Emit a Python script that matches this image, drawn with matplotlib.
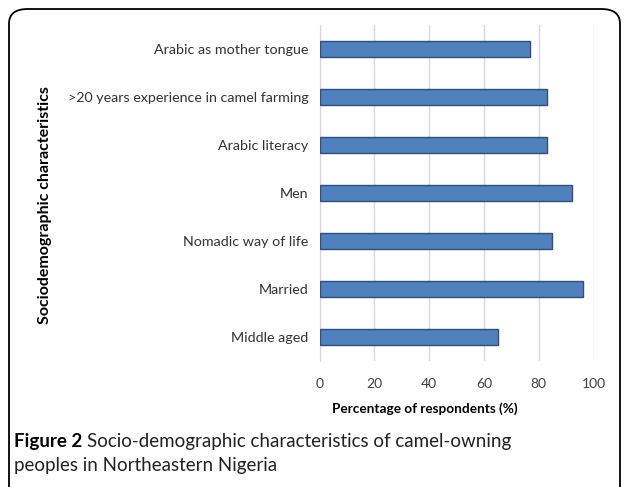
import matplotlib.pyplot as plt
from matplotlib.patches import FancyBboxPatch

# survey results, top to bottom
labels = ['Arabic as mother tongue', '>20 years experience in camel farming',
          'Arabic literacy', 'Men', 'Nomadic way of life', 'Married', 'Middle aged']
percent = [77, 83, 83, 92, 85, 96, 65]
xticks = [0, 20, 40, 60, 80, 100]

plt.rcParams['font.family'] = ['Lato', 'DejaVu Sans']

W, H = 627, 487
fig = plt.figure(figsize=(W / 100, H / 100), dpi=100)
ax = fig.add_axes([319.5 / W, 1 - 361 / H, (593.5 - 319.5) / W, (361 - 25) / H])

ypos = list(range(len(labels)))[::-1]
ax.barh(ypos, percent, height=0.35, color='#4F81BD', edgecolor='#2F4F7F',
        linewidth=1.0, zorder=3)

ax.set_xlim(0, 100)
ax.set_ylim(-0.5, len(labels) - 0.5)
ax.set_xticks(xticks)
ax.set_yticks(ypos)
ax.set_yticklabels(labels, fontsize=10.3, color='#333333')
ax.tick_params(axis='x', labelsize=10, colors='#404040', length=0, pad=12)
ax.tick_params(axis='y', length=0, pad=8)
ax.grid(axis='x', color='#d9d9d9', linewidth=1, zorder=0)
for s in ['top', 'right', 'bottom']:
    ax.spines[s].set_visible(False)
ax.spines['left'].set_color('#d9d9d9')

fig.text(425 / W, 1 - 409 / H, 'Percentage of respondents (%)', fontsize=9.8,
         fontweight='bold', ha='center', va='center')
fig.text(45 / W, 1 - 205 / H, 'Sociodemographic characteristics', rotation=90,
         fontsize=11.5, fontweight='bold', ha='center', va='center')

# caption: bold figure number followed by the description
cap_fs = 13.5
num = fig.text(14 / W, 1 - 441 / H, 'Figure 2', fontsize=cap_fs,
               fontweight='bold', va='center')
fig.canvas.draw()
bb = num.get_window_extent()
fig.text((bb.x1 + 5) / W, 1 - 441 / H,
         'Socio-demographic characteristics of camel-owning',
         fontsize=cap_fs, va='center', color='#222222')
fig.text(14 / W, 1 - 466 / H, 'peoples in Northeastern Nigeria',
         fontsize=cap_fs, va='center', color='#222222')

# rounded frame around the figure
frame = FancyBboxPatch((9 / W, -0.03), 611 / W, 1 - 9 / H + 0.03,
                       boxstyle='round,pad=0,rounding_size=0.03',
                       transform=fig.transFigure, fill=False,
                       edgecolor='black', linewidth=1.3)
fig.patches.append(frame)

fig.savefig('out.png', dpi=100)
